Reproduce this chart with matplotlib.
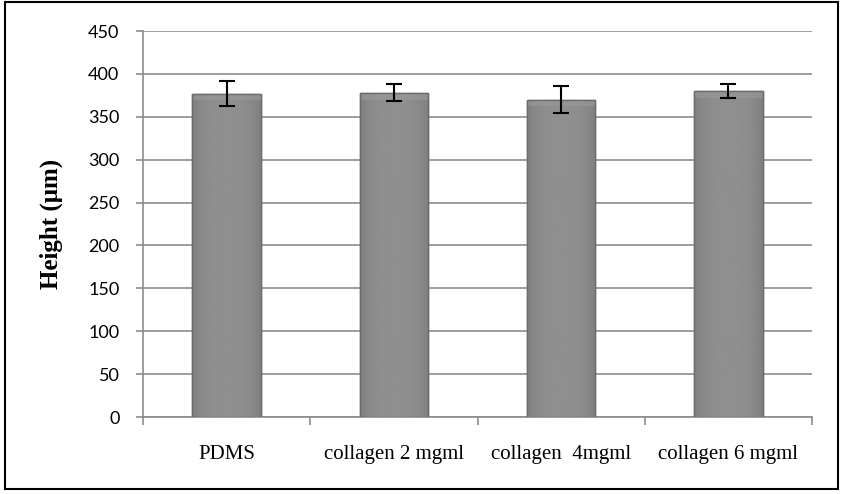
import numpy as np
import matplotlib
matplotlib.use("Agg")
import matplotlib.pyplot as plt
from matplotlib.patches import Rectangle

categories = ["PDMS", "collagen 2 mgml", "collagen  4mgml", "collagen 6 mgml"]
heights = [377, 378, 370, 380]
errors = [15, 10, 16, 8]
yticks = [0, 50, 100, 150, 200, 250, 300, 350, 400, 450]

fig = plt.figure(figsize=(8.43, 4.94), dpi=100)
ax = fig.add_axes([143/843, 1 - 417/494, 669/843, 386/494])

x = np.arange(len(categories))
bars = ax.bar(x, heights, width=0.41, color="#858585", edgecolor="#6c6c6c", linewidth=1.0, zorder=3)

# soft bevel look: darker sides, lighter middle
grad = np.linspace(-1, 1, 64)
shade = 0.50 + 0.06 * (1 - np.abs(grad) ** 3)
img = np.tile(shade, (2, 1))
for b in bars:
    x0, w, h = b.get_x(), b.get_width(), b.get_height()
    im = ax.imshow(img, cmap="gray", vmin=0, vmax=1, aspect="auto",
                   extent=(x0, x0 + w, 0, h), zorder=3.1, interpolation="bilinear")
    im.set_clip_path(b)
    ax.add_patch(Rectangle((x0, h - 8), w, 8, facecolor="#9a9a9a", edgecolor="none", zorder=3.2, alpha=0.6))
    ax.add_patch(Rectangle((x0, 0), w, h, facecolor="none", edgecolor="#6c6c6c", linewidth=1.0, zorder=3.3))

ax.errorbar(x, heights, yerr=errors, fmt="none", ecolor="black", elinewidth=1.5,
            capsize=6, capthick=1.5, zorder=4)

ax.set_xlim(-0.5, len(categories) - 0.5)
ax.set_ylim(0, 450)
ax.set_yticks(yticks)
ax.set_yticklabels([str(v) for v in yticks], fontsize=13, family="Lato")
ax.yaxis.grid(True, color="#8c8c8c", linewidth=1.2, zorder=0)
ax.set_axisbelow(True)

ax.set_xticks(x)
ax.set_xticklabels(categories, fontsize=15, family="Liberation Serif")
ax.set_xticks(np.arange(len(categories) + 1) - 0.5, minor=True)
ax.tick_params(axis="x", which="major", length=0, pad=20)
ax.tick_params(axis="x", which="minor", length=6, color="#8c8c8c", width=1.2)
ax.tick_params(axis="y", length=5, color="#8c8c8c", width=1.2, pad=12)

for s in ["top", "right"]:
    ax.spines[s].set_visible(False)
for s in ["left", "bottom"]:
    ax.spines[s].set_color("#8c8c8c")
    ax.spines[s].set_linewidth(1.2)

ax.set_ylabel("Height (\u03bcm)", fontsize=18, fontweight="bold", family="Liberation Serif", labelpad=18)

fig.patches.append(Rectangle((5/843, 1 - 489/494), 833/843, 487/494, transform=fig.transFigure,
                             fill=False, edgecolor="black", linewidth=1.5))

fig.savefig("out.png", dpi=100)
